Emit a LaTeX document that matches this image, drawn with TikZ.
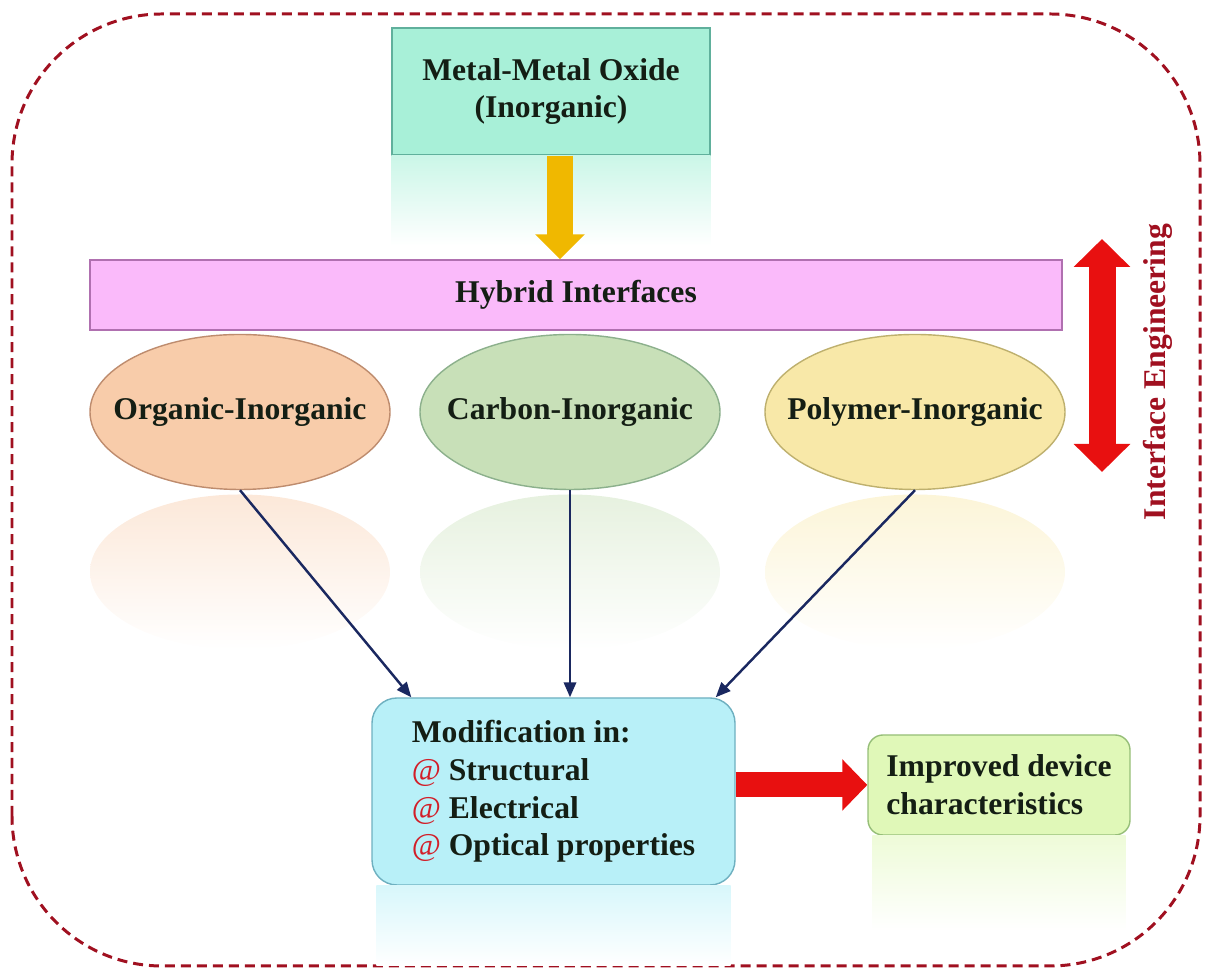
\documentclass[tikz,border=0pt]{standalone}
\usepackage{fontspec}
\setmainfont{Liberation Serif}
\usepackage{xcolor}
\usepackage{tikz}
\usetikzlibrary{arrows.meta,shapes.geometric}
\definecolor{framered}{RGB}{160,16,32}
\definecolor{textdark}{RGB}{20,30,20}
\definecolor{metalfill}{RGB}{168,240,216}
\definecolor{metaldraw}{RGB}{96,176,156}
\definecolor{hybridfill}{RGB}{250,186,250}
\definecolor{hybriddraw}{RGB}{176,112,176}
\definecolor{orgfill}{RGB}{248,204,170}
\definecolor{orgdraw}{RGB}{190,140,110}
\definecolor{carbfill}{RGB}{200,224,184}
\definecolor{carbdraw}{RGB}{140,176,140}
\definecolor{polyfill}{RGB}{248,232,168}
\definecolor{polydraw}{RGB}{190,176,110}
\definecolor{modfill}{RGB}{184,240,248}
\definecolor{moddraw}{RGB}{110,176,192}
\definecolor{impfill}{RGB}{224,248,184}
\definecolor{impdraw}{RGB}{150,190,120}
\definecolor{goldarrow}{RGB}{240,184,0}
\definecolor{redarrow}{RGB}{232,16,16}
\definecolor{navyline}{RGB}{26,40,96}
\definecolor{atred}{RGB}{210,30,40}
\newcommand{\atmark}{\textcolor{atred}{\textmd{@}}}

\begin{document}
\begin{tikzpicture}[font=\fontsize{18}{21.5}\selectfont\bfseries]
\useasboundingbox (0,0) rectangle (24.24,19.38);
\draw[framered,line width=1.7pt,dash pattern=on 5.7pt off 3.4pt,rounded corners=3cm]
    (0.24,0.06) rectangle (24.0,19.1);

\begin{scope}[every node/.style={thick,draw,text=textdark,inner sep=0pt}]
    \node[fill=metalfill,draw=metaldraw,align=center,minimum width=6.36cm,minimum height=2.54cm] (metal) at (11.02,17.55) {Metal-Metal Oxide\\(Inorganic)};
    \node[fill=hybridfill,draw=hybriddraw,minimum width=19.44cm,minimum height=1.4cm] (hybrid) at (11.52,13.48) {Hybrid Interfaces};
\end{scope}

% reflections
\begin{scope}[every path/.style={draw=none}]
    \shade[top color=metalfill!60,bottom color=white] (metal.south west) rectangle ([yshift=-1.8cm]metal.south east);
    \shade[top color=orgfill!45,middle color=white,bottom color=white] (4.8,7.94) ellipse (3.0 and 1.55);
    \shade[top color=carbfill!45,middle color=white,bottom color=white] (11.4,7.94) ellipse (3.0 and 1.55);
    \shade[top color=polyfill!45,middle color=white,bottom color=white] (18.3,7.94) ellipse (3.0 and 1.55);
\end{scope}

\begin{scope}[every node/.style={ellipse,thick,draw,text=textdark,inner xsep=-1cm,inner ysep=0pt,minimum width=6.0cm,minimum height=3.1cm}]
    \node[fill=orgfill,draw=orgdraw] (orgInorg) at (4.8,11.14) {Organic-Inorganic};
    \node[fill=carbfill,draw=carbdraw] (carbInorg) at (11.4,11.14) {Carbon-Inorganic};
    \node[fill=polyfill,draw=polydraw] (polyInorg) at (18.3,11.14) {Polymer-Inorganic};
\end{scope}

\begin{scope}[every node/.style={thick,draw,text=textdark,inner sep=0pt,align=left}]
    \node[fill=modfill,draw=moddraw,rounded corners=0.5cm,minimum width=7.26cm,minimum height=3.74cm] (modif) at (11.07,3.55)
        {Modification in:\\\atmark{} Structural\\\atmark{} Electrical\\\atmark{} Optical properties};
    \node[fill=impfill,draw=impdraw,rounded corners=0.3cm,minimum width=5.24cm,minimum height=2.0cm] (improved) at (19.98,3.68)
        {Improved device\\characteristics};
\end{scope}

\begin{scope}[every path/.style={draw=none}]
    \shade[top color=modfill!55,bottom color=white] ([xshift=0.1cm]modif.south west) rectangle ([xshift=-0.1cm,yshift=-1.6cm]modif.south east);
    \shade[top color=impfill!55,bottom color=white] ([xshift=0.1cm]improved.south west) rectangle ([xshift=-0.1cm,yshift=-1.9cm]improved.south east);
\end{scope}

\node[text=framered,rotate=90] (ieLabel) at (23.16,11.94) {Interface Engineering};
\coordinate (ieTop) at (22.04,14.6);
\coordinate (ieBot) at (22.04,9.94);
\coordinate (ydrop) at ([xshift=0.18cm]metal.south);

% block arrows
\draw[goldarrow,line width=0.52cm,-{Triangle[width=0.96cm,length=0.5cm]}] (ydrop) -- (ydrop |- hybrid.north);
\draw[redarrow,line width=0.54cm,{Triangle[width=1.1cm,length=0.56cm]}-{Triangle[width=1.1cm,length=0.56cm]}] (ieTop) -- (ieBot);
\draw[redarrow,line width=0.5cm,-{Triangle[width=1.0cm,length=0.5cm]}] (modif.east |- improved.west) -- (improved.west);

\begin{scope}[>={Triangle[length=8.5pt,width=7pt]},
              every edge/.style={draw=navyline,line width=1.4pt}]
    \path [->] (orgInorg.south) edge ([xshift=0.8cm]modif.north west);
    \path [->] (carbInorg.south) edge (carbInorg.south |- modif.north);
    \path [->] (polyInorg.south) edge ([xshift=-0.4cm]modif.north east);
\end{scope}

\end{tikzpicture}
\end{document}
